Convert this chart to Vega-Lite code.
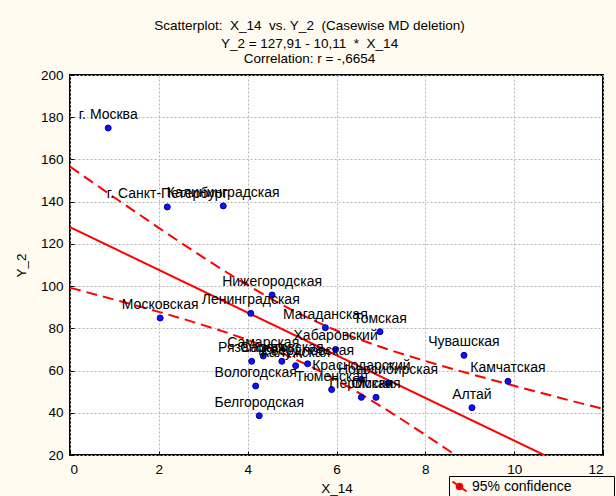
{
  "$schema": "https://vega.github.io/schema/vega-lite/v6.json",
  "width": 533,
  "height": 380,
  "autosize": "none",
  "padding": {"left": 70, "top": 75, "right": 13, "bottom": 41},
  "background": "#FFFBF0",
  "config": {
    "font": "Liberation Sans",
    "view": {"fill": "white", "stroke": "black", "strokeWidth": 2},
    "axis": {
      "domain": false,
      "grid": true,
      "gridColor": "#b4b4b4",
      "gridDash": [2, 2],
      "gridWidth": 1,
      "tickColor": "black",
      "tickSize": -4,
      "tickWidth": 1,
      "labelFont": "Liberation Sans",
      "labelFontSize": 13.5,
      "labelColor": "black",
      "titleFont": "Liberation Sans",
      "titleFontSize": 13.5,
      "titleFontWeight": "normal",
      "titleColor": "black"
    }
  },
  "title": {
    "text": "Scatterplot:\u00a0 X_14\u00a0 vs. Y_2\u00a0 (Casewise MD deletion)",
    "subtitle": ["Y_2 = 127,91 - 10,11\u00a0 *\u00a0 X_14", "Correlation: r = -,6654"],
    "font": "Liberation Sans",
    "subtitleFont": "Liberation Sans",
    "fontSize": 13.5,
    "fontWeight": "normal",
    "subtitleFontSize": 13.5,
    "subtitleLineHeight": 15,
    "subtitlePadding": 4,
    "color": "black",
    "subtitleColor": "black",
    "anchor": "middle",
    "frame": "group",
    "dx": -27,
    "offset": 3
  },
  "datasets": {
    "regions": [
      {"name": "г. Москва", "x": 0.86, "y": 174.9},
      {"name": "г. Санкт-Петербург", "x": 2.19, "y": 137.5},
      {"name": "Калининградская", "x": 3.45, "y": 138.0},
      {"name": "Нижегородская", "x": 4.55, "y": 95.8},
      {"name": "Ленинградская", "x": 4.07, "y": 87.1},
      {"name": "Московская", "x": 2.03, "y": 84.9},
      {"name": "Магаданская", "x": 5.75, "y": 80.3},
      {"name": "Томская", "x": 6.98, "y": 78.4},
      {"name": "Хабаровский", "x": 5.98, "y": 70.0},
      {"name": "Чувашская", "x": 8.87, "y": 67.2},
      {"name": "Камчатская", "x": 9.86, "y": 54.9},
      {"name": "Алтай", "x": 9.05, "y": 42.4},
      {"name": "Самарская", "x": 4.35, "y": 66.9},
      {"name": "Рязанская", "x": 4.09, "y": 64.4},
      {"name": "Саратовская", "x": 4.77, "y": 64.4},
      {"name": "Калужская", "x": 5.08, "y": 62.3},
      {"name": "Свердловская", "x": 5.35, "y": 63.2},
      {"name": "Вологодская", "x": 4.18, "y": 52.7},
      {"name": "Белгородская", "x": 4.26, "y": 38.6},
      {"name": "Краснодарский", "x": 6.56, "y": 55.8},
      {"name": "Тюменская", "x": 5.89, "y": 51.0},
      {"name": "Новосибирская", "x": 7.16, "y": 54.0},
      {"name": "Пермская", "x": 6.56, "y": 47.3},
      {"name": "Омская", "x": 6.89, "y": 47.3}
    ],
    "fit": [
      {"x": 0, "y": 127.91},
      {"x": 12, "y": 6.59}
    ],
    "bands": [
      {"band": "upper", "x": 0, "y": 156.61},
      {"band": "upper", "x": 1, "y": 141.99},
      {"band": "upper", "x": 2, "y": 127.6},
      {"band": "upper", "x": 3, "y": 113.62},
      {"band": "upper", "x": 4, "y": 100.42},
      {"band": "upper", "x": 5, "y": 88.67},
      {"band": "upper", "x": 6, "y": 78.99},
      {"band": "upper", "x": 7, "y": 71.19},
      {"band": "upper", "x": 8, "y": 64.55},
      {"band": "upper", "x": 9, "y": 58.5},
      {"band": "upper", "x": 10, "y": 52.78},
      {"band": "upper", "x": 11, "y": 47.25},
      {"band": "upper", "x": 12, "y": 41.82},
      {"band": "lower", "x": 0, "y": 99.21},
      {"band": "lower", "x": 1, "y": 93.61},
      {"band": "lower", "x": 2, "y": 87.78},
      {"band": "lower", "x": 3, "y": 81.54},
      {"band": "lower", "x": 4, "y": 74.52},
      {"band": "lower", "x": 5, "y": 66.05},
      {"band": "lower", "x": 6, "y": 55.51},
      {"band": "lower", "x": 7, "y": 43.09},
      {"band": "lower", "x": 8, "y": 29.51},
      {"band": "lower", "x": 8.5, "y": 22.47},
      {"band": "lower", "x": 9, "y": 15.34}
    ]
  },
  "layer": [
    {
      "data": {"name": "bands"},
      "mark": {"type": "line", "color": "#ff0000", "strokeWidth": 2, "strokeDash": [11, 6], "interpolate": "monotone", "clip": true},
      "encoding": {
        "x": {
          "field": "x", "type": "quantitative",
          "scale": {"domain": [0, 12], "nice": false},
          "axis": {"values": [0, 2, 4, 6, 8, 10, 12], "title": "X_14", "labelPadding": 11, "titlePadding": 6}
        },
        "y": {
          "field": "y", "type": "quantitative",
          "scale": {"domain": [20, 200], "nice": false, "zero": false},
          "axis": {"values": [20, 40, 60, 80, 100, 120, 140, 160, 180, 200], "title": "Y_2", "labelPadding": 11, "titlePadding": 12}
        },
        "detail": {"field": "band"}
      }
    },
    {
      "data": {"name": "fit"},
      "mark": {"type": "line", "color": "#ff0000", "strokeWidth": 2, "clip": true},
      "encoding": {
        "x": {"field": "x", "type": "quantitative"},
        "y": {"field": "y", "type": "quantitative"}
      }
    },
    {
      "data": {"name": "regions"},
      "mark": {"type": "point", "shape": "circle", "filled": true, "size": 36, "opacity": 1, "stroke": "#00009a", "strokeWidth": 1},
      "encoding": {
        "x": {"field": "x", "type": "quantitative"},
        "y": {"field": "y", "type": "quantitative"},
        "color": {
          "datum": "95% confidence",
          "type": "nominal",
          "scale": {"range": ["#1010ff"]},
          "legend": {
            "orient": "none",
            "legendX": 379,
            "legendY": 401,
            "title": null,
            "direction": "horizontal",
            "strokeColor": "black",
            "padding": 2,
            "labelExpr": "datum.label + '\u2800\u2800\u2800\u2800'",
            "symbolType": "M-1,-0.7L1,0.7M0.4,0A0.4,0.4,0,1,1,-0.4,0A0.4,0.4,0,1,1,0.4,0Z",
            "symbolSize": 200,
            "symbolStrokeColor": "#ff0000",
            "symbolStrokeWidth": 2,
            "labelFont": "Liberation Sans",
            "labelFontSize": 14,
            "labelColor": "black"
          }
        }
      }
    },
    {
      "data": {"name": "regions"},
      "mark": {"type": "text", "dy": -13, "fontSize": 14, "font": "Liberation Sans", "color": "black", "align": "center", "baseline": "middle"},
      "encoding": {
        "x": {"field": "x", "type": "quantitative"},
        "y": {"field": "y", "type": "quantitative"},
        "text": {"field": "name"}
      }
    }
  ]
}
